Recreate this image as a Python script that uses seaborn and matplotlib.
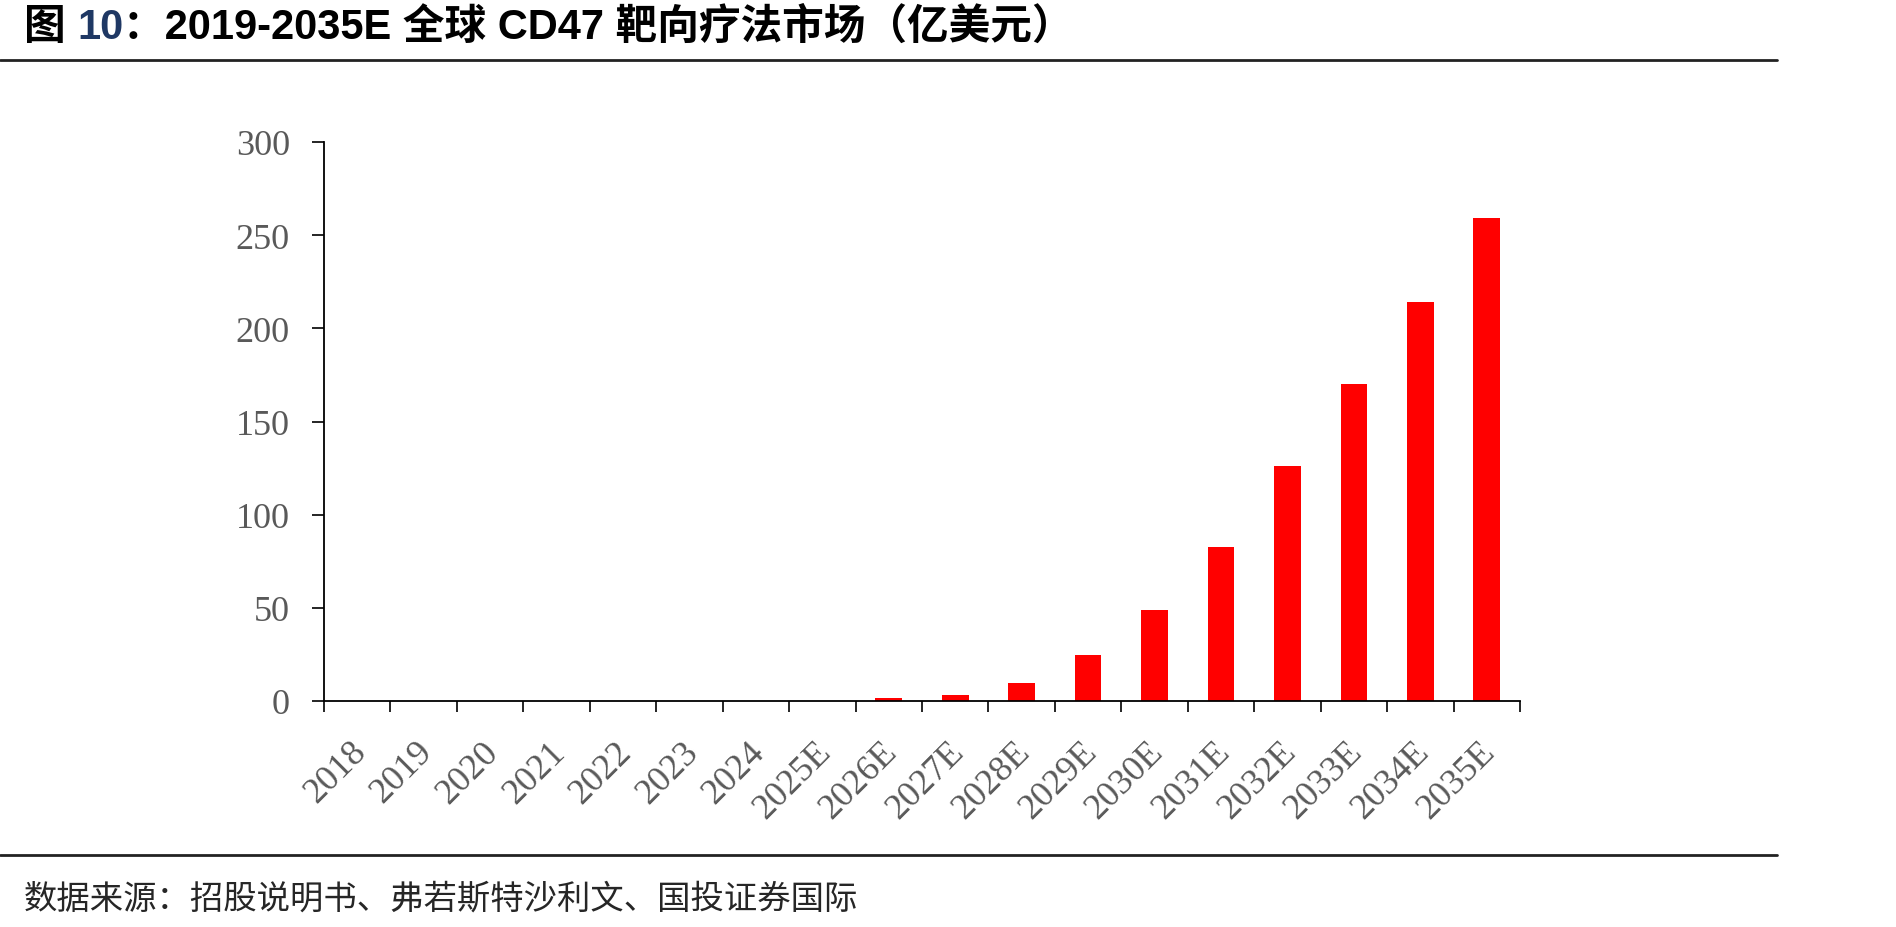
import numpy as np
import pandas as pd
import seaborn as sns
import matplotlib
matplotlib.use('Agg')
import matplotlib.pyplot as plt
from matplotlib.lines import Line2D
from matplotlib.transforms import ScaledTranslation

# Data (亿美元)
years = ['2018', '2019', '2020', '2021', '2022', '2023', '2024', '2025E', '2026E',
         '2027E', '2028E', '2029E', '2030E', '2031E', '2032E', '2033E', '2034E', '2035E']
market = [0, 0, 0, 0, 0, 0, 0, 0, 1.5, 3.2, 9.7, 24.7, 48.7, 82.5, 126, 170, 214, 259]
yticks = [0, 50, 100, 150, 200, 250, 300]

title_parts = [('图 ', 'black'), ('10', '#1F3864'),
               ('：2019-2035E 全球 CD47 靶向疗法市场（亿美元）', 'black')]
source = '数据来源：招股说明书、弗若斯特沙利文、国投证券国际'

sns.set_theme(style='white')
plt.rcParams['font.family'] = ['Liberation Serif', 'Noto Sans CJK SC']

W, H = 1896, 928
fig = plt.figure(figsize=(W / 100, H / 100), dpi=100)
ax = fig.add_axes([324 / W, 1 - 702 / H, (1520 - 324) / W, (702 - 143) / H])

df = pd.DataFrame({'year': years, 'value': market})
sns.barplot(data=df, x='year', y='value', color='#FF0000', saturation=1,
            width=0.4, linewidth=0, ax=ax)

ax.set_xlim(-0.5, len(years) - 0.5)
ax.set_ylim(0, 300)
ax.set_yticks(yticks)
ax.set_xlabel('')
ax.set_ylabel('')

# excel style: ticks between categories, labels at the centers
ax.set_xticks(np.arange(len(years) + 1) - 0.5, labels=[''] * (len(years) + 1))
ax.set_xticks(range(len(years)), labels=years, minor=True)

ax.tick_params(axis='x', which='major', direction='out', length=8, width=1.2,
               color='black', bottom=True)
ax.tick_params(axis='x', which='minor', length=0, pad=20, labelsize=26,
               labelcolor='#595959', bottom=True)
ax.tick_params(axis='y', direction='out', length=8.5, width=1.2, color='black',
               labelsize=26, labelcolor='#595959', pad=16, left=True)

# tick_params resets label transforms, so rotate/shift afterwards
shift = ScaledTranslation(-8 / 100, -6 / 100, fig.dpi_scale_trans)
for lab in ax.get_xticklabels(minor=True):
    lab.set_rotation(45)
    lab.set_ha('right')
    lab.set_rotation_mode('anchor')
    lab.set_transform(lab.get_transform() + shift)

sns.despine(ax=ax)
for s in ['left', 'bottom']:
    ax.spines[s].set_color('black')
    ax.spines[s].set_linewidth(1.3)
ax.grid(False)

# title, drawn piece by piece to colour the figure number
fig.canvas.draw()
renderer = fig.canvas.get_renderer()
x = 24 / W
for txt, col in title_parts:
    t = fig.text(x, 1 - 28 / H, txt, color=col, fontsize=30, fontweight='bold',
                 va='center', ha='left', family=['Liberation Sans', 'Noto Sans CJK SC'])
    bb = t.get_window_extent(renderer=renderer)
    x += bb.width / W

fig.add_artist(Line2D([0, 1777 / W], [1 - 61 / H] * 2, transform=fig.transFigure,
                      color='#222222', lw=2))
fig.add_artist(Line2D([0, 1777 / W], [1 - 856 / H] * 2, transform=fig.transFigure,
                      color='#222222', lw=2))

fig.text(24 / W, 1 - 899 / H, source, fontsize=24, va='center', ha='left',
         family=['Noto Sans CJK SC', 'DejaVu Sans'])

fig.savefig('out.png', dpi=100)
